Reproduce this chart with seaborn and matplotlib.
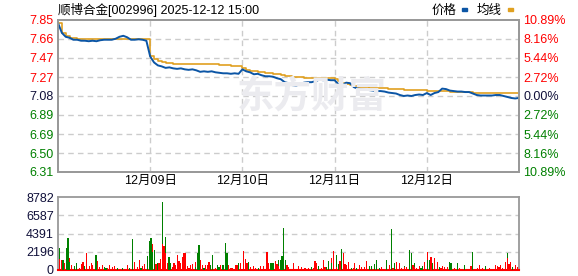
import numpy as np
import pandas as pd
import matplotlib
matplotlib.use("Agg")
import matplotlib.pyplot as plt
import seaborn as sns

# ---------------- data ----------------
title = "顺博合金[002996] 2025-12-12 15:00"
prev_close = 7.08
price_ticks = [7.85, 7.66, 7.47, 7.27, 7.08, 6.89, 6.69, 6.50, 6.31]
pct_labels = ["10.89%", "8.16%", "5.44%", "2.72%", "0.00%", "2.72%", "5.44%", "8.16%", "10.89%"]
day_labels = ["12月09日", "12月10日", "12月11日", "12月12日"]
day_bounds = [240, 480, 720, 960]          # minute index of each new day
vol_ticks = [0, 2196, 4391, 6587, 8782]

# price sampled every 10 minutes (5 days x 24 samples) + close
price = [
    7.82, 7.72, 7.68, 7.67, 7.65, 7.65, 7.64, 7.64, 7.635, 7.64, 7.635, 7.645,
    7.65, 7.65, 7.65, 7.66, 7.68, 7.69, 7.675, 7.65, 7.65, 7.655, 7.65, 7.64,
    7.48, 7.42, 7.39, 7.38, 7.365, 7.37, 7.36, 7.355, 7.36, 7.35, 7.345, 7.35,
    7.34, 7.325, 7.33, 7.325, 7.33, 7.32, 7.315, 7.31, 7.31, 7.305, 7.31, 7.305,
    7.35, 7.33, 7.32, 7.30, 7.305, 7.29, 7.28, 7.28, 7.275, 7.26, 7.25, 7.22,
    7.21, 7.19, 7.185, 7.20, 7.215, 7.22, 7.22, 7.23, 7.245, 7.24, 7.245, 7.24,
    7.24, 7.20, 7.19, 7.215, 7.21, 7.17, 7.155, 7.15, 7.145, 7.14, 7.135, 7.13,
    7.13, 7.125, 7.115, 7.11, 7.105, 7.09, 7.08, 7.085, 7.08, 7.09, 7.095, 7.09,
    7.11, 7.09, 7.11, 7.12, 7.155, 7.15, 7.135, 7.13, 7.125, 7.125, 7.12, 7.12,
    7.105, 7.09, 7.085, 7.085, 7.085, 7.085, 7.09, 7.09, 7.08, 7.07, 7.06, 7.055,
    7.06,
]
avg = [
    7.82, 7.72, 7.69, 7.67, 7.665, 7.66, 7.66, 7.66, 7.655, 7.655, 7.655, 7.655,
    7.655, 7.655, 7.655, 7.655, 7.655, 7.66, 7.66, 7.66, 7.655, 7.655, 7.655, 7.655,
    7.49, 7.45, 7.43, 7.42, 7.41, 7.41, 7.405, 7.40, 7.40, 7.40, 7.40, 7.40,
    7.40, 7.40, 7.40, 7.40, 7.40, 7.40, 7.395, 7.395, 7.39, 7.385, 7.385, 7.385,
    7.36, 7.345, 7.335, 7.33, 7.325, 7.32, 7.315, 7.31, 7.305, 7.30, 7.29, 7.285,
    7.28, 7.275, 7.27, 7.27, 7.265, 7.265, 7.265, 7.26, 7.26, 7.26, 7.26, 7.26,
    7.25, 7.23, 7.215, 7.20, 7.19, 7.18, 7.175, 7.17, 7.17, 7.165, 7.165, 7.16,
    7.16, 7.16, 7.155, 7.155, 7.15, 7.15, 7.145, 7.145, 7.14, 7.14, 7.14, 7.14,
    7.135, 7.13, 7.13, 7.13, 7.13, 7.13, 7.125, 7.125, 7.125, 7.125, 7.12, 7.12,
    7.115, 7.115, 7.115, 7.115, 7.115, 7.11, 7.11, 7.11, 7.11, 7.11, 7.11, 7.11,
    7.11,
]
price_minute = list(range(0, 1200, 10)) + [1199]

# volume bars: minute index, volume, direction (u = up/red, d = down/green)
vol_minute = [
    3, 5, 8, 10, 13, 16, 21, 23, 26, 29, 31, 34, 36, 42, 47, 49, 55, 60, 62, 65,
    68, 73, 75, 81, 83, 86, 89, 91, 99, 102, 104, 109, 115, 120, 125, 130, 135, 141, 148, 156,
    167, 180, 182, 187, 195, 198, 200, 206, 208, 213, 216, 221, 226, 232, 234, 237, 239, 242, 245, 247,
    250, 252, 255, 258, 263, 266, 268, 271, 273, 276, 279, 281, 284, 286, 289, 292, 294, 299, 302, 305,
    307, 312, 315, 320, 325, 328, 331, 333, 336, 341, 346, 351, 357, 359, 364, 367, 370, 375, 380, 383,
    390, 393, 396, 401, 403, 409, 414, 419, 422, 427, 432, 437, 440, 443, 448, 453, 461, 466, 469, 471,
    474, 476, 482, 484, 487, 489, 492, 497, 502, 510, 515, 521, 526, 534, 544, 547, 552, 557, 560, 565,
    570, 573, 575, 578, 581, 583, 586, 588, 591, 596, 601, 614, 627, 635, 643, 651, 659, 664, 669, 672,
    674, 679, 685, 690, 695, 700, 703, 705, 711, 713, 716, 718, 724, 726, 729, 734, 737, 742, 744, 747,
    752, 755, 763, 770, 773, 778, 784, 786, 791, 799, 802, 804, 810, 815, 825, 828, 838, 843, 856, 862,
    867, 872, 875, 877, 882, 888, 890, 895, 901, 903, 908, 914, 916, 919, 924, 927, 929, 934, 940, 945,
    950, 953, 955, 961, 963, 966, 971, 974, 976, 981, 987, 992, 997, 1000, 1002, 1007, 1013, 1020, 1023, 1031,
    1039, 1046, 1057, 1075, 1078, 1080, 1091, 1096, 1104, 1114, 1124, 1140, 1143, 1148, 1151, 1158, 1166, 1169, 1171, 1174,
    1179, 1184, 1190, 1192, 1195,
]
vol_value = [
    2600, 1300, 1100, 1200, 1200, 800, 1700, 2600, 3900, 1500, 1000, 600, 300, 500, 400, 900, 300, 500, 700, 1000,
    500, 2000, 600, 400, 500, 900, 600, 400, 1800, 1100, 600, 400, 600, 400, 300, 300, 600, 400, 500, 200,
    200, 600, 500, 300, 3700, 1000, 600, 300, 400, 1200, 300, 500, 700, 600, 1700, 2500, 3500, 3900, 3100, 2200,
    2400, 1700, 700, 900, 900, 1300, 600, 8200, 3100, 2900, 4000, 2000, 900, 900, 1600, 400, 800, 400, 800, 400,
    600, 1800, 1100, 900, 1600, 2100, 2000, 1400, 500, 300, 600, 700, 1000, 400, 2000, 3000, 1200, 600, 300, 600,
    600, 1000, 600, 800, 1800, 300, 600, 400, 600, 600, 600, 3300, 2100, 600, 300, 300, 600, 600, 400, 800,
    900, 600, 2300, 1600, 1300, 1100, 900, 1000, 400, 500, 300, 300, 500, 500, 2200, 900, 800, 900, 900, 1100,
    700, 1200, 500, 1200, 700, 1700, 1000, 5000, 1200, 600, 400, 800, 500, 400, 300, 300, 400, 300, 1100, 700,
    800, 500, 300, 1200, 400, 400, 1100, 700, 1500, 900, 1100, 2300, 1800, 400, 700, 1100, 2500, 2000, 2000, 700,
    600, 1000, 300, 300, 800, 300, 300, 600, 400, 400, 300, 1100, 500, 500, 700, 1200, 300, 400, 1200, 600,
    4900, 300, 400, 800, 1000, 800, 600, 300, 500, 400, 400, 1400, 2400, 2000, 600, 900, 400, 300, 500, 300,
    500, 1000, 600, 2200, 1200, 1200, 1600, 900, 800, 1400, 1000, 400, 300, 500, 500, 400, 400, 1000, 900, 300,
    900, 300, 600, 500, 500, 2200, 300, 600, 300, 500, 300, 600, 500, 400, 600, 300, 1000, 2100, 1500, 700,
    1000, 400, 500, 600, 400,
]
vol_dir = (
    "d u d u d u d d d u d u u d u d u d u u "
    "d u u u u u u u d u u u u d d u u u u d "
    "d u u d d u u u u u d u u u d d d d u d "
    "d d u d u u u d u u d u d u d u d u u d "
    "u u u u u u u u u u u u u d d d u u d u "
    "u u d u d u d d u d d d d u u u u u d d "
    "u u u u u u u d u u u d u u u u d d d u "
    "u d u d u d d d d u u u u u u u d u u u "
    "u d u u u d d d u d d u d u d u d d u u "
    "u u d u u d u u u u u u d d d d d u d u "
    "d u u d u u u u d u u u d d u d u u u d "
    "d u u u d d u u d u u d u u u u u d d u "
    "d u d u u d u u u d u u u u u u u d u u "
    "u d u u u"
).split()

df_price = pd.DataFrame({"minute": price_minute, "price": price, "avg": avg})
df_vol = pd.DataFrame({"minute": vol_minute, "volume": vol_value, "dir": vol_dir})

# ---------------- style ----------------
sns.set_theme(style="white")
plt.rcParams["font.family"] = ["Liberation Sans", "Noto Sans CJK SC", "DejaVu Sans"]

RED = "#ff0000"
GREEN = "#008000"
DARK = "#10103a"
BLUE = "#0b55a5"
ORANGE = "#e0a020"
FRAME = "#999999"
GRID = "#cccccc"

fig = plt.figure(figsize=(5.78, 2.76), dpi=100)
W, H = 578, 276
L, R = 58, 519
ax = fig.add_axes([L / W, 1 - 172 / H, (R - L) / W, (172 - 20) / H])
axv = fig.add_axes([L / W, 1 - 270 / H, (R - L) / W, (270 - 197) / H])

ymin, ymax = price_ticks[-1], price_ticks[0]

# watermark
fig.text(312 / W, 1 - 97 / H, "东方财富", fontsize=27,
         fontweight="bold", color="#ebebef", ha="center", va="center",
         family=["Noto Sans CJK SC"], zorder=0)

# grid
for t in price_ticks[1:-1]:
    ax.axhline(t, color=GRID, lw=1, ls=(0, (4, 3)), zorder=1)
for b in day_bounds:
    ax.axvline(b, color=GRID, lw=1, ls=(0, (4, 3)), zorder=1)

sns.lineplot(data=df_price, x="minute", y="avg", ax=ax, color=ORANGE, lw=1.2,
             drawstyle="steps-post", zorder=3, estimator=None)
sns.lineplot(data=df_price, x="minute", y="price", ax=ax, color=BLUE, lw=1.4,
             zorder=4, estimator=None)

ax.set_xlim(0, 1200)
ax.set_ylim(ymin, ymax)
ax.set_yticks(price_ticks)
ax.set_yticklabels([f"{t:.2f}" for t in price_ticks])
for lab, t in zip(ax.get_yticklabels(), price_ticks):
    lab.set_color(RED if t > prev_close + 1e-9 else (DARK if abs(t - prev_close) < 1e-9 else GREEN))
ax.set_xticks(day_bounds)
ax.set_xticklabels(day_labels, family=["Liberation Sans", "Noto Sans CJK SC"])
ax.tick_params(axis="both", length=0, labelsize=9, pad=3)
ax.tick_params(axis="x", pad=2, colors="black")
ax.set_xlabel("")
ax.set_ylabel("")

axr = ax.twinx()
axr.set_ylim(ymin, ymax)
axr.set_yticks(price_ticks)
axr.set_yticklabels(pct_labels)
for lab, t in zip(axr.get_yticklabels(), price_ticks):
    lab.set_color(RED if t > prev_close + 1e-9 else (DARK if abs(t - prev_close) < 1e-9 else GREEN))
axr.tick_params(axis="y", length=0, labelsize=9, pad=3)

for a in (ax, axr, axv):
    for s in a.spines.values():
        s.set_color(FRAME)
        s.set_linewidth(1.3)

# volume
for t in vol_ticks[1:-1]:
    axv.axhline(t, color=GRID, lw=1, ls=(0, (4, 3)), zorder=1)
colors = [RED if d == "u" else GREEN for d in df_vol["dir"]]
axv.bar(df_vol["minute"], df_vol["volume"], width=2.8, color=colors, linewidth=0,
        zorder=3, antialiased=False)
axv.set_xlim(0, 1200)
axv.set_ylim(0, vol_ticks[-1])
axv.set_yticks(vol_ticks)
axv.set_yticklabels([str(v) for v in vol_ticks])
axv.set_xticks([])
axv.tick_params(axis="y", length=0, labelsize=9, pad=3, colors=DARK)
axv.spines["bottom"].set_color(RED)
axv.spines["bottom"].set_linewidth(1.5)

# title and legend
fig.text(L / W, 1 - 10 / H, title, fontsize=9, color="black", ha="left", va="center",
         family=["Liberation Sans", "Noto Sans CJK SC"])
fig.text(432 / W, 1 - 10 / H, "价格", fontsize=9, color="black", ha="left", va="center",
         family=["Noto Sans CJK SC"])
fig.patches.append(plt.Rectangle((462 / W, 1 - 11 / H), 5 / W, 3 / H, color=BLUE,
                                 transform=fig.transFigure, figure=fig))
fig.text(477 / W, 1 - 10 / H, "均线", fontsize=9, color="black", ha="left", va="center",
         family=["Noto Sans CJK SC"])
fig.patches.append(plt.Rectangle((508 / W, 1 - 11 / H), 5 / W, 3 / H, color=ORANGE,
                                 transform=fig.transFigure, figure=fig))

fig.savefig("out.png", dpi=100)
